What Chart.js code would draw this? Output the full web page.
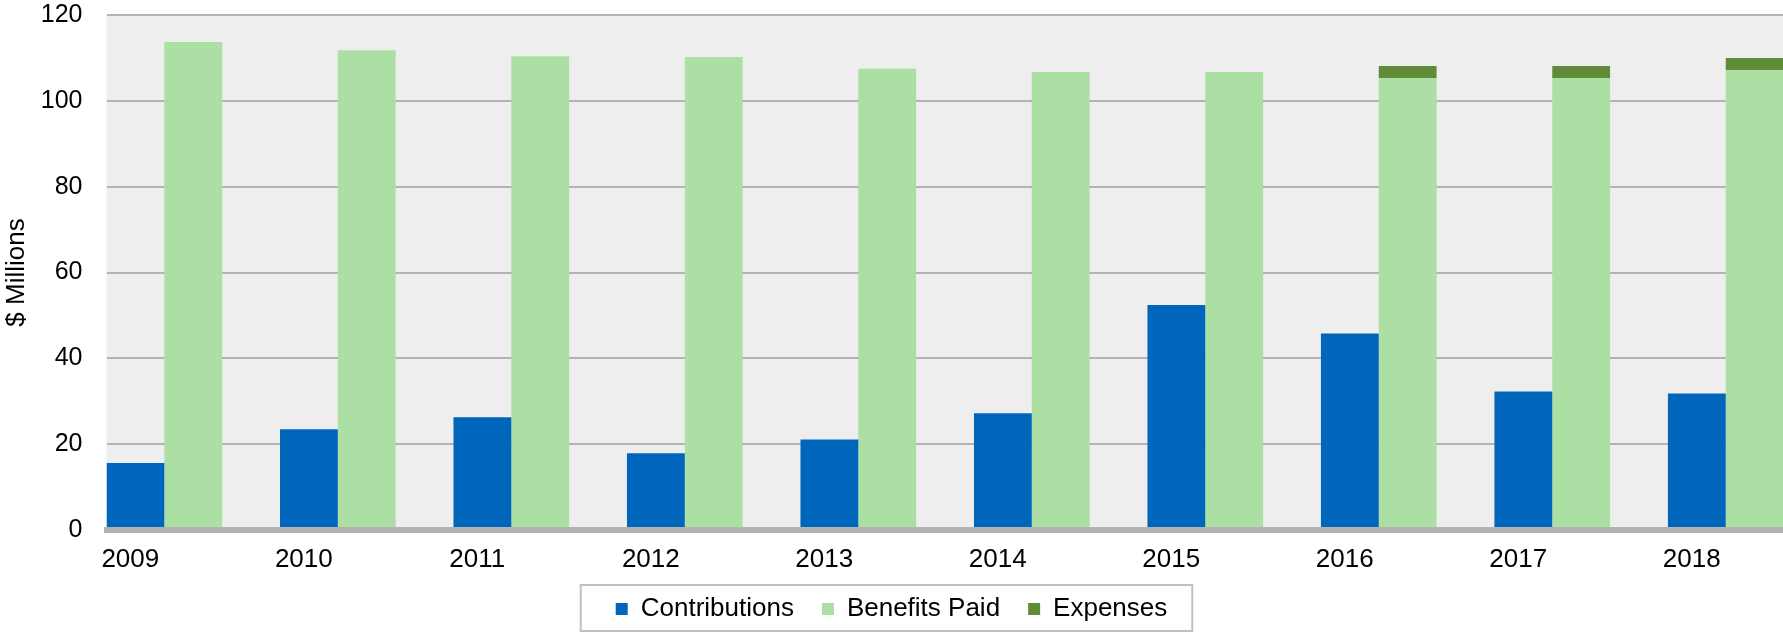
<!DOCTYPE html>
<html lang="en">
<head>
  <meta charset="UTF-8">
  <title>Contributions, Benefits Paid and Expenses</title>
  <style>
    body {
      margin: 0;
      background: #fff;
      overflow: hidden;
    }

    #chart-container {
      width: 1783px;
      height: 632px;
    }
  </style>
</head>
<body>
  <div id="chart-container">
    <canvas id="barChart"></canvas>
  </div>

  <script src="https://cdn.jsdelivr.net/npm/chart.js"></script>
  <script>
    // $ millions per year
    const years = ['2009', '2010', '2011', '2012', '2013', '2014', '2015', '2016', '2017', '2018'];
    const contributions = [15.6, 23.5, 26.3, 17.9, 21.1, 27.2, 52.4, 45.8, 32.3, 31.8];
    const benefitsPaid = [113.7, 111.8, 110.4, 110.2, 107.5, 106.7, 106.7, 105.3, 105.3, 107.2];
    const expenses = [null, null, null, null, null, null, null, 2.8, 2.8, 2.8];
    const yTicks = [0, 20, 40, 60, 80, 100, 120];

    const FONT = "'Liberation Sans', Arial, sans-serif";
    const toPoints = arr => arr.map((v, i) => ({ x: i, y: v }));

    // grey plot area behind the bars
    const plotBackground = {
      id: 'plotBackground',
      beforeDraw(chart) {
        const { ctx, chartArea: a } = chart;
        ctx.save();
        ctx.fillStyle = '#eeeeee';
        ctx.fillRect(a.left, a.top, a.right - a.left, a.bottom - a.top);
        ctx.restore();
      }
    };

    // thin frame around the legend
    const legendFrame = {
      id: 'legendFrame',
      afterDraw(chart) {
        const boxes = chart.legend.legendHitBoxes;
        if (!boxes || !boxes.length) return;
        const first = boxes[0];
        const last = boxes[boxes.length - 1];
        const left = first.left - 35;
        const right = last.left + last.width + 25;
        const top = first.top - 11;
        const bottom = first.top + first.height + 9;
        const ctx = chart.ctx;
        ctx.save();
        ctx.strokeStyle = '#c0c0c0';
        ctx.lineWidth = 2;
        ctx.strokeRect(left, top, right - left, bottom - top);
        ctx.restore();
      }
    };

    new Chart(document.getElementById('barChart'), {
      type: 'bar',
      data: {
        datasets: [{
          label: 'Contributions',
          data: toPoints(contributions),
          backgroundColor: '#0066bb',
          stack: 'contrib'
        },
        {
          label: 'Benefits Paid',
          data: toPoints(benefitsPaid),
          backgroundColor: '#acdfa4',
          stack: 'paid'
        },
        {
          label: 'Expenses',
          data: toPoints(expenses),
          backgroundColor: '#608c3a',
          stack: 'paid'
        }]
      },
      options: {
        responsive: true,
        maintainAspectRatio: false,
        animation: false,
        categoryPercentage: 2 / 3,
        barPercentage: 1,
        layout: { padding: 0 },
        plugins: {
          legend: {
            position: 'bottom',
            labels: {
              boxWidth: 12,
              boxHeight: 12,
              padding: 28,
              color: '#000',
              font: { family: FONT, size: 26 }
            }
          },
          tooltip: { enabled: false }
        },
        scales: {
          x: {
            type: 'linear',
            min: -1 / 3,
            max: 9.33,
            offset: false,
            stacked: true,
            grid: { display: false, drawTicks: false },
            border: { display: true, color: '#b3b3b3', width: 6, z: 1 },
            afterBuildTicks: scale => {
              scale.ticks = years.map((_, i) => ({ value: i }));
            },
            afterFit: scale => { scale.height = 38; },
            ticks: {
              autoSkip: false,
              maxRotation: 0,
              padding: 14,
              labelOffset: -34,
              color: '#000',
              font: { family: FONT, size: 26 }
              ,
              callback: value => years[value] ?? ''
            }
          },
          y: {
            min: 0,
            max: 120,
            stacked: true,
            grid: { color: '#b3b3b3', lineWidth: 2, drawTicks: false },
            border: { display: false },
            afterBuildTicks: scale => {
              scale.ticks = yTicks.map(v => ({ value: v }));
            },
            afterFit: scale => {
              scale.width = 106.5;
              scale.paddingTop = 15;
              scale.paddingBottom = 0;
            },
            ticks: {
              padding: 24,
              color: '#000',
              font: { family: FONT, size: 25 }
            },
            title: {
              display: true,
              text: '$ Millions',
              color: '#000',
              padding: { top: 1, bottom: 0 },
              font: { family: FONT, size: 26 }
            }
          }
        }
      },
      plugins: [plotBackground, legendFrame]
    });
  </script>
</body>
</html>
